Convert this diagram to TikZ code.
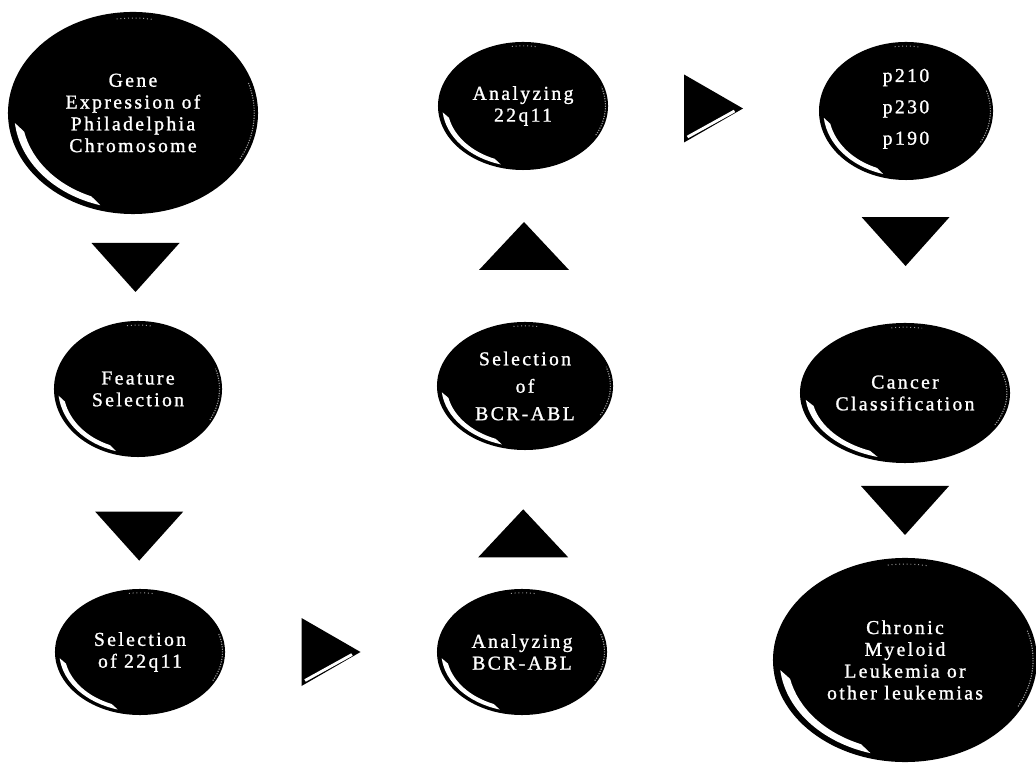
\documentclass[tikz,border=0pt]{standalone}
\usepackage{fontspec}
\setmainfont{Liberation Serif}
\newfontfamily\stagefont{Liberation Serif}[LetterSpace=12, FakeBold=1.2]
\usetikzlibrary{shapes.geometric, calc}
\definecolor{cellBlack}{HTML}{000000}
\definecolor{glossWhite}{HTML}{FFFFFF}
\definecolor{speckGray}{HTML}{9A9A9A}

% white crescent + specks on a stage ellipse: name, rx, ry (in px units)
\newcommand{\gloss}[3]{%
  \fill[glossWhite] ($(#1)+(186:{0.95*#2} and {0.95*#3})$)
      arc[start angle=186, end angle=254, x radius={0.95*#2}, y radius={0.95*#3}]
      -- ($(#1)+(248:{0.89*#2} and {0.89*#3})$)
      arc[start angle=248, end angle=192, x radius={0.89*#2}, y radius={0.89*#3}] -- cycle;
  \draw[speckGray, dotted, line width=0.7pt] ($(#1)+(98:{0.94*#2} and {0.94*#3})$)
      arc[start angle=98, end angle=80, x radius={0.94*#2}, y radius={0.94*#3}];
  \draw[speckGray, densely dotted, line width=0.8pt] ($(#1)+(-28:{0.97*#2} and {0.97*#3})$)
      arc[start angle=-28, end angle=18, x radius={0.97*#2}, y radius={0.97*#3}];
}

\begin{document}
\begin{tikzpicture}[
    x=0.025cm, y=0.025cm,
    stage/.style={
        ellipse, fill=cellBlack, text=white, inner sep=0pt, align=center,
        font=\stagefont\fontsize{14}{15.5}\selectfont
    },
    downtip/.pic={\fill[cellBlack] (-44,24.5) -- (44,24.5) -- (0,-24.5) -- cycle;},
    uptip/.pic={\fill[cellBlack] (-45,-24) -- (45,-24) -- (0,24) -- cycle;},
    righttip/.pic={\fill[cellBlack] (-29.5,34) -- (-29.5,-34) -- (29.5,0) -- cycle;
        \draw[glossWhite, line width=2pt] (-26,-28.5) -- (21,-2.5);},
]

\fill[white] (0,0) rectangle (1036,762);
\useasboundingbox (0,0) rectangle (1036,762);

% ============================================
% Left column
% ============================================
\node[stage, minimum width=6.25cm, minimum height=5.05cm] (gene) at (133,649) {Gene\\Expression of\\Philadelphia\\Chromosome};
\node[stage, minimum width=4.2cm, minimum height=3.4cm] (feature) at (138,373) {Feature\\Selection};
\node[stage, minimum width=4.25cm, minimum height=3.15cm] (sel22) at (140,110) {Selection\\of 22q11};

% ============================================
% Middle column
% ============================================
\node[stage, minimum width=4.25cm, minimum height=3.15cm] (anbcr) at (522,110) {Analyzing\\BCR-ABL};
\node[stage, minimum width=4.4cm, minimum height=3.2cm] (selbcr) at (525,376) {Selection\\[4pt]of\\[4pt]BCR-ABL};
\node[stage, minimum width=4.25cm, minimum height=3.2cm] (an22) at (523,656) {Analyzing\\22q11};

% ============================================
% Right column
% ============================================
\node[stage, minimum width=4.35cm, minimum height=3.45cm] (pgroup) at (906,651) {\raisebox{6pt}{\shortstack{p210\\[7pt]p230\\[7pt]p190}}};
\node[stage, minimum width=5.25cm, minimum height=3.5cm] (cancer) at (905,369) {Cancer\\Classification};
\node[stage, minimum width=6.6cm, minimum height=5.1cm] (cml) at (905,102) {Chronic\\Myeloid\\Leukemia or\\other leukemias};

% highlights
\foreach \n/\rx/\ry in {gene/125/101, feature/84/68, sel22/85/63, anbcr/85/63,
    selbcr/88/64, an22/85/64, pgroup/87/69, cancer/105/70, cml/132/102}
    \gloss{\n}{\rx}{\ry};

% ============================================
% Connections (triangles)
% ============================================
\path (gene.south) -- pic[midway]{downtip} (feature.north);
\path (feature.south) -- pic[pos=0.6]{downtip} (sel22.north);
\path (sel22.east) -- pic[midway]{righttip} (anbcr.west);
\path (anbcr.north) -- pic[pos=0.4]{uptip} (selbcr.south);
\path (selbcr.north) -- pic[midway]{uptip} (an22.south);
\path (an22.east) -- pic[midway]{righttip} (pgroup.west);
\path (pgroup.south) -- pic[pos=0.43]{downtip} (cancer.north);
\path (cancer.south) -- pic[midway]{downtip} (cml.north);

\end{tikzpicture}
\end{document}
